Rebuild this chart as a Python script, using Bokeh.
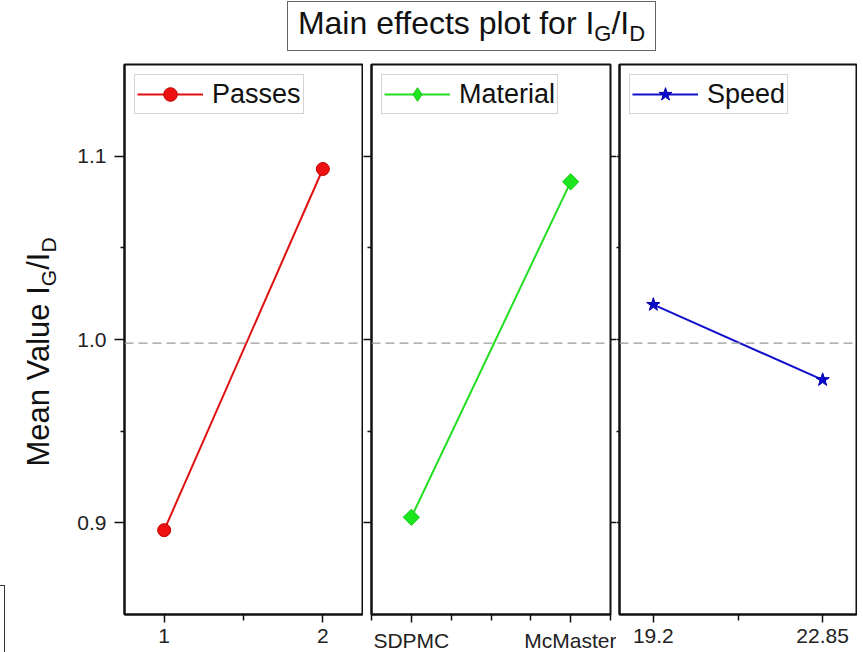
import math
from bokeh.plotting import figure
from bokeh.layouts import column, row
from bokeh.models import Div, Span, FixedTicker, LinearAxis, Range1d
from bokeh.embed import file_html
from bokeh.resources import INLINE

FONT = "Liberation Sans"
INK = "#111111"

# ---------------- data ----------------
passes_levels = [1, 2]
passes_means = [0.896, 1.093]

material_levels = ["SDPMC", "McMaster"]
material_pos = [1, 2]
material_means = [0.903, 1.086]

speed_levels = [19.2, 22.85]
speed_labels = ["19.2", "22.85"]
speed_means = [1.019, 0.978]

grand_mean = 0.998

y_ticks = [0.9, 1.0, 1.1]
y_tick_labels = ["0.9", "1.0", "1.1"]
y_minor = [0.95, 1.05]


def style_axis(ax, font_size="21px"):
    ax.major_label_text_font = FONT
    ax.major_label_text_font_size = font_size
    ax.major_label_text_color = "#222222"
    ax.axis_line_color = INK
    ax.axis_line_width = 2
    ax.major_tick_line_color = INK
    ax.major_tick_line_width = 1.5
    ax.minor_tick_line_color = INK
    ax.minor_tick_line_width = 1.5
    ax.major_tick_in = 0
    ax.minor_tick_in = 0


def make_fig(x_start, x_end, frame_w, left_b, right_b):
    p = figure(frame_width=frame_w, frame_height=550,
               x_range=Range1d(x_start, x_end), y_range=Range1d(0.85, 1.15),
               output_backend="svg", toolbar_location=None,
               min_border_left=left_b, min_border_right=right_b,
               min_border_top=4, min_border_bottom=0,
               background_fill_color="white", border_fill_color="white",
               outline_line_color=INK, outline_line_width=2)
    p.xgrid.visible = False
    p.ygrid.visible = False
    p.add_layout(Span(location=grand_mean, dimension="width", line_color="#9a9a9a",
                      line_width=1.2, line_dash="9 5"))
    return p


def style_x(p, ticks, minor, overrides):
    xa = p.xaxis[0]
    style_axis(xa)
    xa.ticker = FixedTicker(ticks=ticks, minor_ticks=minor)
    xa.major_label_overrides = overrides
    xa.major_tick_out = 8
    xa.minor_tick_out = 6
    xa.major_label_standoff = 6


def hide_labels_y(ax, tick_out, minor_out):
    style_axis(ax, "0px")
    ax.ticker = FixedTicker(ticks=y_ticks, minor_ticks=y_minor)
    ax.major_label_overrides = {v: "" for v in y_ticks}
    ax.major_tick_out = tick_out
    ax.minor_tick_out = minor_out
    ax.major_label_standoff = 0


def style_legend(p):
    lg = p.legend[0]
    lg.location = "top_left"
    lg.margin = 10
    lg.padding = 2
    lg.spacing = 0
    lg.glyph_width = 66
    lg.glyph_height = 34
    lg.label_height = 34
    lg.label_standoff = 9
    lg.label_text_font = FONT
    lg.label_text_font_size = "27px"
    lg.label_text_color = INK
    lg.border_line_color = "#aaaaaa"
    lg.border_line_width = 1
    lg.background_fill_alpha = 1


# ---------------- panel 1: Passes ----------------
p1 = make_fig(0.75, 2.25, 238, 54, 1)
p1.line(passes_levels, passes_means, line_color="#e01010", line_width=2, legend_label="Passes")
p1.scatter(passes_levels, passes_means, marker="circle", size=13, fill_color="#ee1111",
           line_color="#c00000", line_width=1, legend_label="Passes")
style_x(p1, passes_levels, [1.5], {v: str(v) for v in passes_levels})
ya = p1.yaxis[0]
style_axis(ya)
ya.ticker = FixedTicker(ticks=y_ticks, minor_ticks=y_minor)
ya.major_label_overrides = dict(zip(y_ticks, y_tick_labels))
ya.major_tick_out = 10
ya.minor_tick_out = 4
ya.major_label_standoff = 8
style_legend(p1)

# ---------------- panel 2: Material ----------------
p2 = make_fig(0.75, 2.25, 239, 8, 6)
p2.line(material_pos, material_means, line_color="#22dd22", line_width=2, legend_label="Material")
p2.scatter(material_pos, material_means, marker="square", angle=math.pi / 4, size=11.5,
           fill_color="#1ee61e", line_color="#18c818")
# legend-only diamond (legend glyphs are drawn unrotated)
p2.scatter(material_pos, material_means, marker="diamond", size=14,
           fill_color="#1ee61e", line_color="#18c818", legend_label="Material", visible=False)
style_x(p2, material_pos, [0.75, 1.25, 1.5, 1.75, 2.25], dict(zip(material_pos, material_levels)))
hide_labels_y(p2.yaxis[0], 8, 4)
ra2 = LinearAxis()
hide_labels_y(ra2, 6, 0)
ra2.ticker = FixedTicker(ticks=y_ticks, minor_ticks=[])
ra2.axis_line_color = None
p2.add_layout(ra2, "right")
style_legend(p2)

# ---------------- panel 3: Speed ----------------
p3 = make_fig(18.47, 23.58, 237, 3, 1)
p3.line(speed_levels, speed_means, line_color="#1010cc", line_width=2, legend_label="Speed")
p3.scatter(speed_levels, speed_means, marker="star", size=14, fill_color="#0a0acc",
           line_color="#0000aa", legend_label="Speed")
style_x(p3, speed_levels, [21.025], dict(zip(speed_levels, speed_labels)))
hide_labels_y(p3.yaxis[0], 3, 3)
style_legend(p3)

# ---------------- titles ----------------
SUB = 'style="font-size:22px; line-height:0; vertical-align:-7px;"'
title_html = (
    '<div style="position:relative; top:-4px; margin-left:282px; width:369px; height:50px; '
    'box-sizing:border-box; border:1px solid #666666; background:white; '
    f'font-family:\'{FONT}\'; font-size:32px; line-height:42px; color:#111111; '
    'text-align:center; white-space:nowrap;">'
    f'Main effects plot for I<sub {SUB}>G</sub>/I<sub {SUB}>D</sub></div>'
)
title = Div(text=title_html, width=847, height=50)

YSUB = 'style="font-size:21px; line-height:0; vertical-align:-7px;"'
ylabel_html = (
    '<div style="position:relative; width:60px; height:594px;">'
    '<div style="position:absolute; left:-30px; top:520px; width:30px; height:120px; '
    'border:1.5px solid #333333;"></div>'
    '<div style="position:absolute; left:34px; top:287px; '
    'transform:translate(-50%,-50%) rotate(-90deg); white-space:nowrap; '
    f'font-family:\'{FONT}\'; font-size:31px; line-height:36px; color:#111111;">'
    f'Mean Value I<sub {YSUB}>G</sub>/I<sub {YSUB}>D</sub></div></div>'
)
ylabel = Div(text=ylabel_html, width=60, height=594)

layout = column(title, row(ylabel, p1, p2, p3, spacing=0), spacing=0)

with open("out.html", "w") as f:
    f.write(file_html(layout, INLINE))
